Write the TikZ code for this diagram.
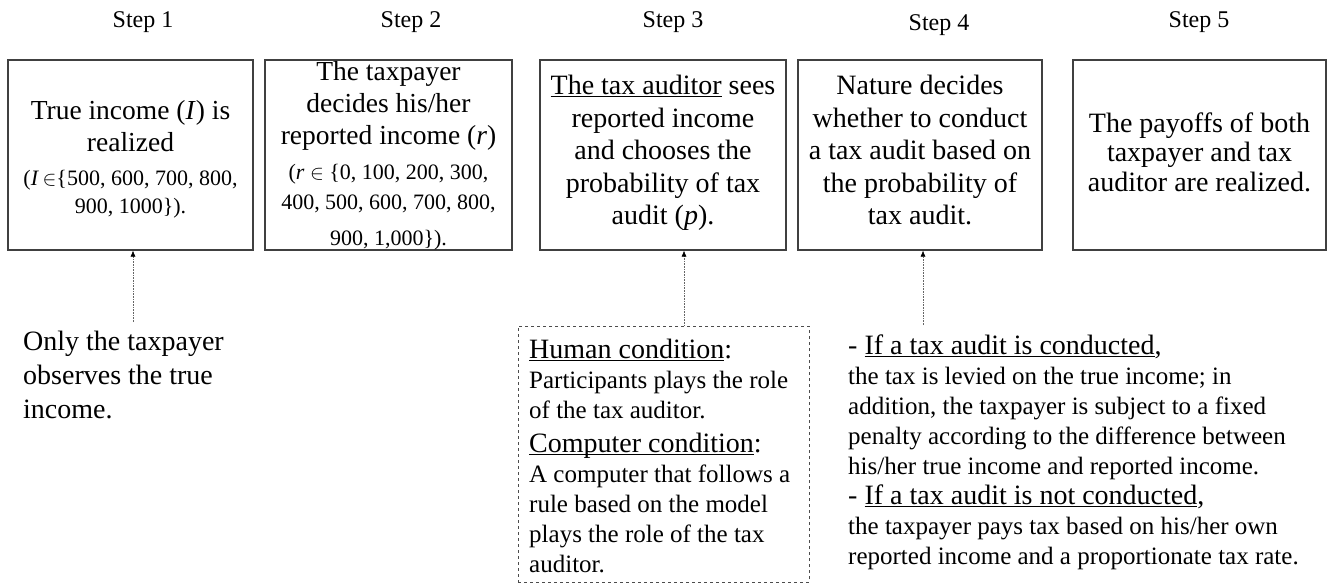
\documentclass[tikz,border=0pt]{standalone}
\usepackage{fontspec}
\setmainfont{Liberation Serif}
\usetikzlibrary{arrows.meta,calc}
\newcommand\myfs[2]{\fontsize{#1}{#2}\selectfont\spaceskip=\fontdimen2\font\relax\xspaceskip=\fontdimen2\font\relax}
\newcommand\myul[1]{\underline{\raisebox{0pt}[\height][0pt]{#1}}}
\begin{document}
\begin{tikzpicture}[x=1pt,y=-1pt,
  stepbox/.style={draw=black!75, line width=1.2pt, minimum height=190pt, inner sep=0pt},
  steplabel/.style={anchor=base, inner sep=0pt, font=\myfs{24}{28}},
  boxtext/.style={align=center, text width=260pt, inner sep=0pt},
  note/.style={align=left, inner sep=0pt, anchor=north west},
  conn/.style={densely dotted, draw=black!60, line width=0.6pt, -{Latex[length=6pt,width=5pt,black]}}]
\useasboundingbox (0,0) rectangle (1327,583);
% step labels
\node[steplabel] (s1) at (143,28) {Step 1};
\node[steplabel] (s2) at (411,28) {Step 2};
\node[steplabel] (s3) at (673,28) {Step 3};
\node[steplabel] (s4) at (939,31) {Step 4};
\node[steplabel] (s5) at (1199,28) {Step 5};
% boxes
\node[stepbox, minimum width=245pt] (b1) at (130.5,155) {};
\node[stepbox, minimum width=247pt] (b2) at (388.5,155) {};
\node[stepbox, minimum width=246pt] (b3) at (663,155) {};
\node[stepbox, minimum width=244pt] (b4) at (920,155) {};
\node[stepbox, minimum width=253pt] (b5) at (1199.5,155) {};
% box texts
\node[boxtext, yshift=-4pt] (t1) at (b1.center) {{\myfs{27.5}{32}True income (\textit{I}) is\\ realized\par}\vspace{6pt}{\myfs{22}{28}(\textit{I}\,$\in$\{500, 600, 700, 800,\\ 900, 1000\}).\par}};
\node[boxtext, yshift=-1pt] (t2) at (b2.center) {{\myfs{27.5}{32}The taxpayer\\ decides his/her\\ reported income (\textit{r})\par}\vspace{5pt}{\myfs{22}{30}(\textit{r} $\in$ \{0, 100, 200, 300,\\ 400, 500, 600, 700, 800,\\[6pt] 900, 1,000\}).\par}};
\node[boxtext, yshift=2pt] (t3) at (b3.center) {\myfs{28}{32.5}\myul{The tax auditor} sees\\ reported income\\ and chooses the\\ probability of tax\\ audit (\textit{p}).\par};
\node[boxtext, yshift=5pt] (t4) at (b4.center) {\myfs{28}{32.5}Nature decides\\ whether to conduct\\ a tax audit based on\\ the probability of\\ tax audit.\par};
\node[boxtext, yshift=3pt] (t5) at (b5.center) {\myfs{28}{29.5}The payoffs of both\\ taxpayer and tax\\ auditor are realized.\par};
% lower notes
\node[note, text width=280pt] (only) at (23,331) {\myfs{28}{34}Only the taxpayer\\ observes the true\\ income.\par};
\node[draw=black!70, dashed, line width=0.8pt, minimum width=291pt, minimum height=256pt, inner sep=0pt] (cond) at (663.5,454) {};
\node[note, text width=280pt] (condtext) at (529,339) {{\myfs{28}{34}\myul{Human condition}:\par}{\myfs{25}{30}Participants plays the role\\ of the tax auditor.\par}{\myfs{28}{34}\myul{Computer condition}:\par}{\myfs{25}{30}A computer that follows a\\ rule based on the model\\ plays the role of the tax\\ auditor.\par}};
\node[note, text width=480pt] (rules) at (848,335) {{\myfs{28}{30}- \myul{If a tax audit is conducted},\par}{\myfs{25}{30}the tax is levied on the true income; in\\ addition, the taxpayer is subject to a fixed\\ penalty according to the difference between\\ his/her true income and reported income.\par}{\myfs{28}{30}- \myul{If a tax audit is not conducted},\par}{\myfs{25}{30}the taxpayer pays tax based on his/her own\\ reported income and a proportionate tax rate.\par}};
% connectors
\coordinate (a1) at (133,322);
\coordinate (a4) at (923,325);
\draw[conn] (a1) -- (a1 |- b1.south);
\draw[conn] ([xshift=20.5pt]cond.north) -- ([xshift=20.5pt]cond.north |- b3.south);
\draw[conn] (a4) -- (a4 |- b4.south);
\end{tikzpicture}
\end{document}
